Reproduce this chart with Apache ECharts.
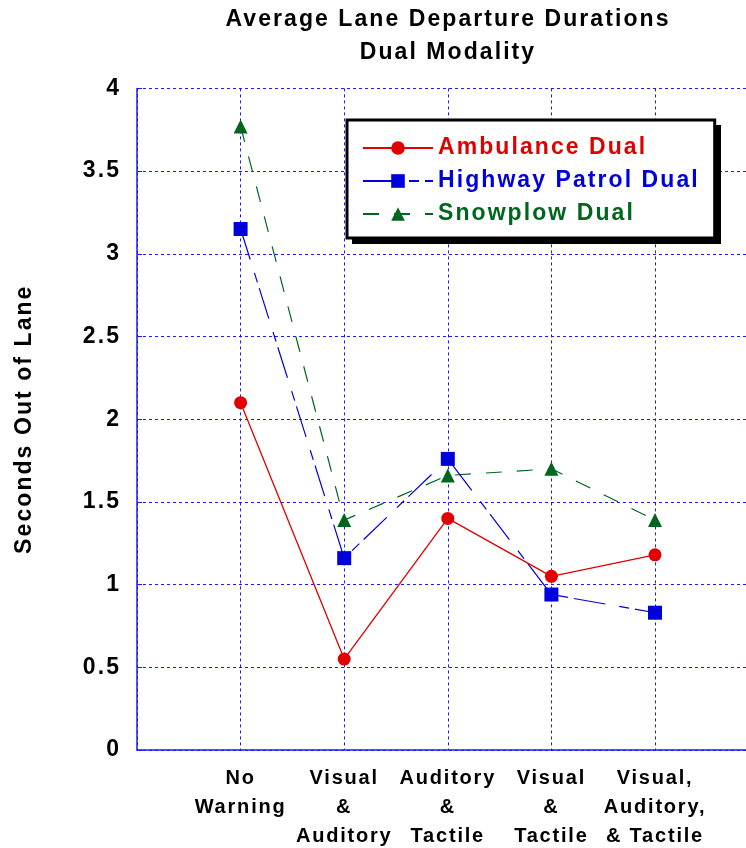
<!DOCTYPE html>
<html>
<head>
<meta charset="utf-8">
<script src="https://cdn.jsdelivr.net/npm/echarts@6/dist/echarts.min.js"></script>
<style>
html,body{margin:0;padding:0;background:#fff;}
#chart{width:746px;height:848px;}
</style>
</head>
<body>
<div id="chart"></div>
<script>
// ---- data ----
const categories = ['No\nWarning', 'Visual\n&\nAuditory', 'Auditory\n&\nTactile', 'Visual\n&\nTactile', 'Visual,\nAuditory,\n& Tactile'];
const seriesNames = ['Ambulance Dual', 'Highway Patrol Dual', 'Snowplow Dual'];
const ambulance = [2.1, 0.55, 1.4, 1.05, 1.18];
const highwayPatrol = [3.15, 1.16, 1.76, 0.94, 0.83];
const snowplow = [3.77, 1.39, 1.66, 1.70, 1.39];
const yMin = 0, yMax = 4, yStep = 0.5;
const titleLines = ['Average Lane Departure Durations', 'Dual Modality'];
const yName = 'Seconds Out of Lane';

// tracked (letter-spaced) text like the original
(function () {
  const p = CanvasRenderingContext2D.prototype;
  if (!('letterSpacing' in p)) return;
  const f = p.fillText, m = p.measureText;
  const ls = ctx => {
    const mt = /(\d+(?:\.\d+)?)px/.exec(ctx.font || '');
    const size = mt ? parseFloat(mt[1]) : 12;
    return (size * 0.09).toFixed(2) + 'px';
  };
  p.fillText = function () { this.letterSpacing = ls(this); return f.apply(this, arguments); };
  p.measureText = function () { this.letterSpacing = ls(this); return m.apply(this, arguments); };
})();

const FONT = "'Liberation Sans', Arial, sans-serif";
const RED = '#e00000', BLUE = '#0000dc', GREEN = '#00661e', GRID = '#1a1aff';

const toPoints = arr => arr.map((v, i) => [i + 1, v]);

const chart = echarts.init(document.getElementById('chart'), null, { renderer: 'canvas' });
chart.setOption({
  animation: false,
  backgroundColor: '#fff',
  title: {
    text: titleLines.join('\n'),
    left: 448, top: 3, textAlign: 'center', padding: 0,
    textStyle: { fontFamily: FONT, fontWeight: 'bold', fontSize: 23, lineHeight: 33, color: '#000' }
  },
  graphic: [
    { type: 'rect', left: 352, top: 125, shape: { width: 369, height: 119 }, style: { fill: '#000' }, z: 1 }
  ],
  grid: { left: 137, top: 88.4, width: 621.6, height: 661.6, containLabel: false, outerBoundsMode: 'none' },
  legend: {
    orient: 'vertical', left: 347, top: 120, z: 10,
    padding: [15, 15, 11, 15],
    itemWidth: 70, itemHeight: 17, itemGap: 7,
    backgroundColor: '#fff', borderColor: '#000', borderWidth: 3,
    textStyle: { fontFamily: FONT, fontWeight: 'bold', fontSize: 23, lineHeight: 26 },
    data: [
      { name: seriesNames[0], textStyle: { color: RED } },
      { name: seriesNames[1], textStyle: { color: BLUE } },
      { name: seriesNames[2], textStyle: { color: GREEN } }
    ]
  },
  xAxis: {
    type: 'value', min: 0, max: categories.length + 1, interval: 1,
    axisLine: { lineStyle: { color: GRID, width: 1.5 } },
    axisTick: { show: false },
    splitLine: { show: true, lineStyle: { color: GRID, width: 1, type: [3, 3] } },
    axisLabel: {
      margin: 14, color: '#000', fontFamily: FONT, fontWeight: 'bold', fontSize: 20, lineHeight: 29,
      formatter: v => categories[v - 1] || ''
    }
  },
  yAxis: {
    type: 'value', min: yMin, max: yMax, interval: yStep,
    name: yName, nameLocation: 'middle', nameRotate: 90, nameGap: 100,
    nameTextStyle: { fontFamily: FONT, fontWeight: 'bold', fontSize: 23, color: '#000' },
    axisLine: { show: true, lineStyle: { color: GRID, width: 1.5 } },
    axisTick: { show: true, inside: true, length: 5, lineStyle: { color: GRID } },
    splitLine: { show: true, lineStyle: { color: GRID, width: 1, type: [3, 3] } },
    axisLabel: { margin: 16, color: '#000', fontFamily: FONT, fontWeight: 'bold', fontSize: 23 }
  },
  series: [
    {
      name: seriesNames[0], type: 'line', data: toPoints(ambulance),
      symbol: 'circle', symbolSize: 13, z: 4,
      lineStyle: { color: RED, width: 1.3 }, itemStyle: { color: RED }
    },
    {
      name: seriesNames[1], type: 'line', data: toPoints(highwayPatrol),
      symbol: 'rect', symbolSize: 14, z: 3,
      lineStyle: { color: BLUE, width: 1.2, type: [32, 14, 10, 6] }, itemStyle: { color: BLUE }
    },
    {
      name: seriesNames[2], type: 'line', data: toPoints(snowplow),
      symbol: 'triangle', symbolSize: 14, z: 2,
      lineStyle: { color: GREEN, width: 1.2, type: [16, 15] }, itemStyle: { color: GREEN }
    }
  ]
});
</script>
</body>
</html>
